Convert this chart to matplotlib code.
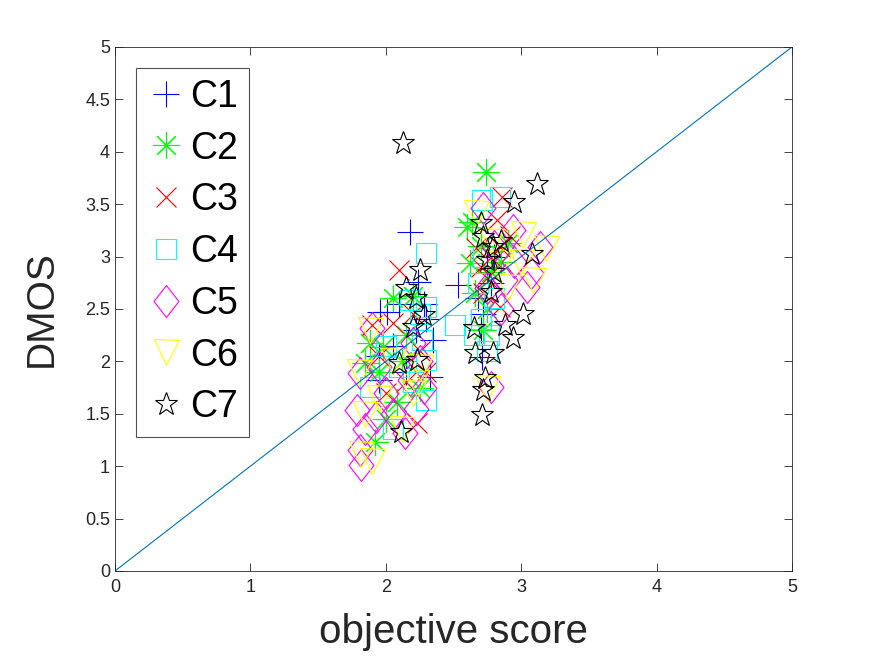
import matplotlib.pyplot as plt
import numpy as np
from matplotlib.path import Path

plt.rcParams['font.family'] = ['Liberation Sans', 'DejaVu Sans']

# objective score (x) and DMOS (y) for each class
c1_x = [2.18, 2.24, 2.01, 1.95, 2.33, 2.05, 2.22, 2.28, 2.10, 2.30, 1.95, 2.15, 1.96, 2.35,
        2.53, 2.71, 2.68, 2.75, 2.72, 2.80, 2.70, 2.78]
c1_y = [3.23, 2.76, 2.47, 2.05, 1.85, 2.15, 2.30, 2.55, 2.55, 2.40, 1.82, 1.90, 2.47, 2.20,
        2.73, 2.04, 2.60, 2.90, 2.45, 3.00, 2.30, 2.75]

c2_x = [2.05, 1.98, 1.88, 2.08, 1.92, 2.20, 2.12, 1.95, 2.00, 2.25, 1.85, 2.15,
        2.74, 2.64, 2.62, 2.90, 2.70, 2.78, 2.66, 2.72, 2.85, 2.75, 2.60]
c2_y = [2.60, 2.14, 2.18, 1.61, 1.23, 2.62, 2.00, 1.90, 1.45, 1.75, 1.98, 2.25,
        3.81, 3.33, 2.94, 3.13, 3.10, 2.85, 2.65, 2.30, 2.95, 2.50, 3.28]

c3_x = [2.10, 2.05, 2.23, 1.95, 2.25, 2.15, 2.30, 2.00, 1.90, 2.20,
        2.86, 2.82, 2.67, 2.84, 2.84, 2.75, 2.72, 2.92, 2.78, 2.70]
c3_y = [2.87, 2.37, 1.41, 2.05, 2.10, 1.80, 1.90, 1.70, 2.35, 2.45,
        3.57, 3.35, 3.08, 3.09, 2.52, 2.80, 2.65, 3.20, 3.00, 2.90]

c4_x = [2.30, 2.18, 2.30, 2.30, 1.88, 2.30, 2.25, 2.10, 2.20, 2.27, 2.00, 2.05,
        2.71, 2.84, 2.51, 2.65, 2.76, 2.70, 2.68, 2.80, 2.72, 2.75]
c4_y = [3.03, 2.59, 2.52, 2.01, 1.76, 1.63, 2.45, 1.95, 1.80, 2.20, 2.15, 1.35,
        3.54, 3.57, 2.35, 2.25, 2.25, 2.40, 2.75, 2.60, 3.00, 2.10]

c5_x = [1.90, 2.20, 1.81, 2.18, 1.79, 1.81, 1.93, 2.14, 1.82, 2.00, 2.25, 1.95, 2.22, 1.85, 2.05, 2.28,
        2.72, 2.94, 3.14, 3.07, 3.04, 2.88, 2.78, 2.80, 2.95, 2.75, 2.85]
c5_y = [2.32, 2.18, 1.89, 1.82, 1.54, 1.15, 1.47, 1.32, 1.01, 1.70, 2.00, 1.95, 1.55, 1.35, 1.50, 1.75,
        3.46, 3.25, 3.09, 2.84, 2.71, 2.78, 1.76, 3.10, 2.95, 2.70, 2.50]

c6_x = [1.88, 1.80, 2.20, 1.85, 1.82, 2.12, 2.25, 1.95, 2.05, 2.22, 1.90,
        2.67, 3.01, 3.18, 3.09, 2.90, 2.75, 2.85, 2.78, 3.00]
c6_y = [2.30, 1.90, 1.70, 1.50, 1.12, 1.35, 1.95, 1.65, 2.00, 1.80, 1.05,
        3.42, 3.22, 3.08, 2.78, 2.71, 1.75, 2.95, 3.15, 2.95]

c7_x = [2.13, 2.25, 2.28, 2.20, 2.10, 2.23, 2.11, 2.22, 2.15,
        3.12, 2.95, 2.70, 2.72, 2.79, 2.75, 3.08, 2.78, 3.01, 2.94, 2.88, 2.65, 2.66,
        2.79, 2.73, 2.72, 2.71, 2.80, 2.85]
c7_y = [4.08, 2.87, 2.44, 2.33, 1.98, 2.01, 1.33, 2.60, 2.70,
        3.69, 3.52, 3.32, 3.19, 3.09, 2.97, 3.02, 2.66, 2.45, 2.22, 2.35, 2.32, 2.08,
        2.08, 1.84, 1.73, 1.49, 2.85, 3.15]

labels = ['C1', 'C2', 'C3', 'C4', 'C5', 'C6', 'C7']

# matlab-like diamond (a bit taller than wide)
diamond = Path([(0, 1), (0.78, 0), (0, -1), (-0.78, 0), (0, 1)],
               [Path.MOVETO, Path.LINETO, Path.LINETO, Path.LINETO, Path.CLOSEPOLY])

styles = [
    dict(marker='+', color='#0000ff', ms=19),
    dict(marker=(8, 2, 0), color='#00ff00', ms=19),
    dict(marker='x', color='#ff0000', ms=14),
    dict(marker='s', color='#00ffff', ms=14, mfc='none'),
    dict(marker=diamond, color='#ff00ff', ms=23, mfc='none'),
    dict(marker='v', color='#ffff00', ms=18, mfc='none'),
    dict(marker='*', color='#000000', ms=17, mfc='none'),
]
series = [(c1_x, c1_y), (c2_x, c2_y), (c3_x, c3_y), (c4_x, c4_y),
          (c5_x, c5_y), (c6_x, c6_y), (c7_x, c7_y)]

fig = plt.figure(figsize=(8.75, 6.56), dpi=100)
ax = fig.add_axes([0.1314, 0.1296, 0.7737, 0.7988])

for (xs, ys), st, lab in zip(series, styles, labels):
    ax.plot(xs, ys, linestyle='none', marker=st['marker'], color=st['color'],
            markersize=st['ms'], markerfacecolor=st.get('mfc', st['color']),
            markeredgewidth=0.8, label=lab)

# reference line y = x
ax.plot([0, 5], [0, 5], color='#0072bd', linewidth=0.8)

ax.set_xlim(0, 5)
ax.set_ylim(0, 5)
ax.set_xticks(np.arange(0, 6, 1))
ax.set_yticks(np.arange(0, 5.01, 0.5))
ax.set_yticklabels(['0', '0.5', '1', '1.5', '2', '2.5', '3', '3.5', '4', '4.5', '5'])
ax.tick_params(direction='in', top=True, right=True, labelsize=13,
               colors='#262626', length=6, width=0.6)
ax.tick_params(axis='x', pad=6)
for sp in ax.spines.values():
    sp.set_color('#262626')
    sp.set_linewidth(0.6)

ax.set_xlabel('objective score', fontsize=29, color='#262626', labelpad=12)
ax.set_ylabel('DMOS', fontsize=28, color='#262626', labelpad=18)

leg = ax.legend(loc='upper left', fontsize=27, frameon=True, fancybox=False,
                edgecolor='#262626', handletextpad=0.15, borderaxespad=0.55,
                borderpad=0.3, labelspacing=0.42, handlelength=1.0)
leg.get_frame().set_linewidth(0.8)

fig.savefig('out.png', dpi=100)
